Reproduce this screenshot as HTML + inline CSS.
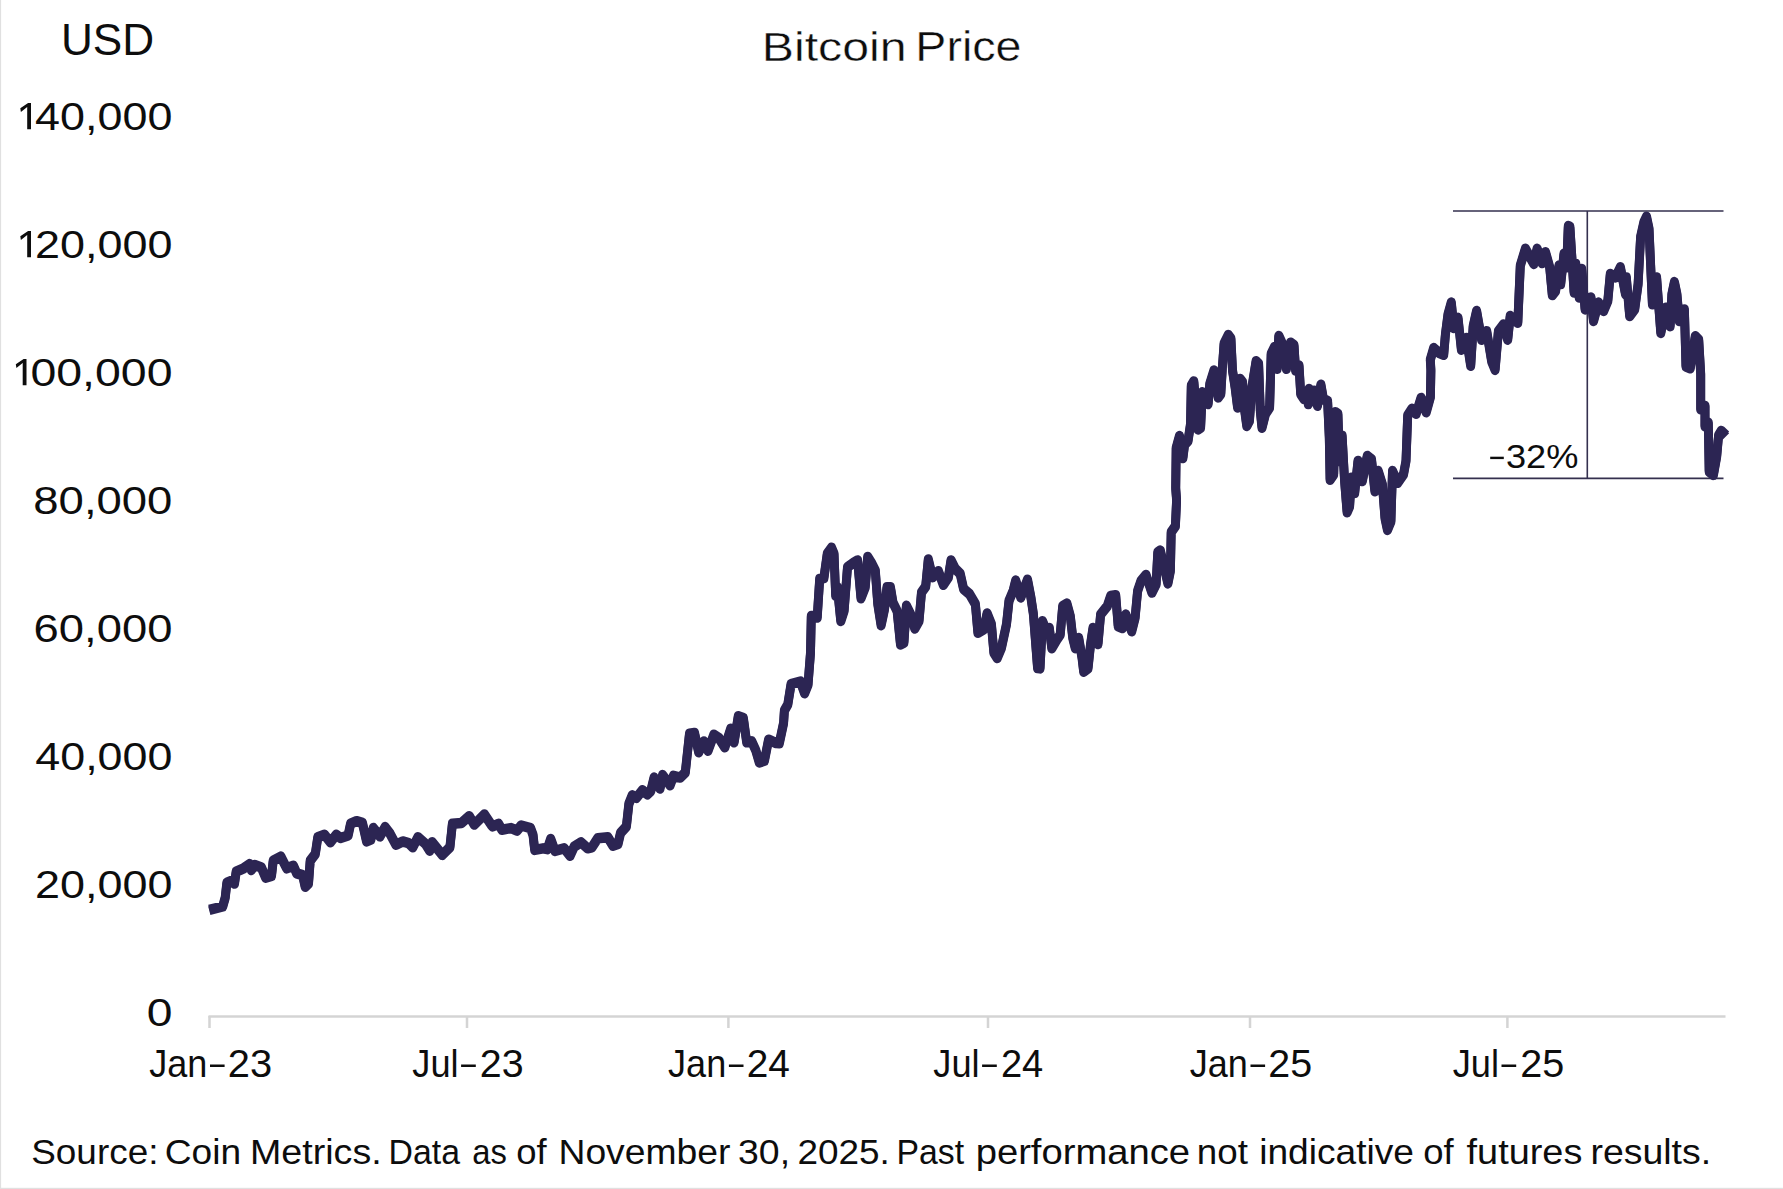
<!DOCTYPE html>
<html><head><meta charset="utf-8"><title>Bitcoin Price</title>
<style>
html,body{margin:0;padding:0;background:#fff;}
body{width:1783px;height:1189px;overflow:hidden;font-family:"Liberation Sans",sans-serif;}
svg{display:block;position:absolute;left:0;top:0;}
text{font-family:"Liberation Sans",sans-serif;fill:#0d0d0d;}
</style></head><body>
<svg width="1783" height="1189" viewBox="0 0 1783 1189">
<rect x="0" y="0" width="1783" height="1189" fill="#fff"/>
<!-- outer faint border -->
<rect x="0" y="0" width="1.1" height="1189" fill="#e0e0e0"/>
<rect x="0" y="1187.8" width="1783" height="1.2" fill="#e0e0e0"/>
<!-- axis -->
<g stroke="#d4d4d4" stroke-width="2.5" fill="none">
<path d="M208.5 1016.5H1725.5"/>
<path d="M209.5 1016V1028M467 1016V1028M728.4 1016V1028M988 1016V1028M1250 1016V1028M1507.4 1016V1028"/>
</g>
<!-- annotation -->
<g stroke="#34304f" stroke-width="1.6" fill="none">
<path d="M1453 211H1723.5M1453 478.4H1723.5M1587.3 211V478.4"/>
</g>
<!-- series -->
<g fill="none" stroke="#2c2553" stroke-width="8.9" stroke-linejoin="round" stroke-linecap="butt">
<polyline transform="translate(0 -0.8)" points="209.3,909.9 222.7,906.5 225.2,897.8 226.9,882.6 231.1,881.0 234.5,883.5 236.2,871.7 243.7,868.3 249.6,864.1 251.3,870.0 254.7,865.0 261.4,867.5 265.6,877.6 271.5,875.9 273.2,860.8 280.8,856.6 286.7,868.3 293.4,865.8 296.7,873.4 302.6,875.1 305.2,886.8 308.5,883.5 310.2,860.8 315.3,854.0 317.8,837.2 324.5,834.7 330.4,842.3 336.3,834.7 340.5,838.0 348.1,835.5 350.6,823.7 356.5,821.2 362.4,822.9 366.6,841.4 370.8,839.7 373.3,828.0 380.0,836.4 385.1,827.1 390.1,833.8 396.0,844.8 402.7,841.4 408.6,843.1 412.8,847.3 417.9,837.2 425.5,843.9 429.7,850.7 432.2,842.3 442.3,854.9 449.9,847.3 452.4,823.7 461.6,822.9 469.2,816.2 474.3,824.6 484.4,814.5 491.1,824.6 492.6,826.4 498.5,823.9 501.9,829.7 511.1,828.1 517.0,830.6 521.2,825.5 530.5,828.1 533.0,834.8 534.7,849.9 543.1,848.3 547.3,849.1 550.7,839.0 554.9,850.8 564.1,848.3 570.0,855.8 574.2,846.6 581.0,842.4 587.7,848.3 591.9,847.4 597.8,838.2 607.9,837.3 612.9,845.7 618.0,844.0 620.5,833.1 626.4,826.4 628.9,803.7 632.3,795.3 636.5,797.8 642.4,790.2 647.4,794.4 650.8,791.0 654.1,777.6 660.0,788.5 662.6,775.1 670.1,785.2 673.5,775.9 680.2,777.6 685.3,772.5 689.5,733.8 694.5,733.0 698.7,752.3 703.8,741.4 708.0,750.7 713.9,734.7 718.9,738.0 724.8,747.3 730.7,728.8 734.1,742.3 738.3,716.2 743.3,717.9 746.7,742.3 751.7,741.4 755.9,750.7 759.3,762.4 764.4,760.8 768.6,739.7 776.1,743.1 779.3,743.2 783.6,723.0 784.4,710.4 787.8,704.5 791.1,684.0 800.4,681.5 804.6,693.3 808.0,684.9 810.5,652.9 811.3,615.9 817.2,617.6 819.7,578.9 823.9,578.0 827.3,553.7 831.5,547.8 834.0,553.7 835.7,595.7 837.4,587.3 840.8,621.0 844.1,610.9 847.5,567.1 853.4,562.9 857.6,560.4 861.0,598.2 865.2,587.3 867.7,557.0 871.9,563.7 875.3,570.5 877.8,604.1 881.1,625.2 884.5,609.2 887.0,587.3 890.4,587.3 892.9,602.4 897.1,610.9 900.5,644.5 903.9,642.8 906.4,605.8 910.6,614.2 914.8,628.5 919.0,621.0 921.5,592.3 925.7,586.5 928.3,559.5 932.5,577.2 938.4,571.3 943.4,584.8 948.4,577.2 951.0,560.4 955.2,568.8 960.2,573.8 963.6,589.0 969.5,594.0 975.4,604.1 977.9,632.7 983.8,629.4 987.1,613.4 991.4,624.3 993.9,652.9 997.2,658.0 1001.4,647.9 1006.5,624.3 1009.0,600.8 1013.2,590.7 1015.7,580.6 1020.8,597.4 1027.5,579.7 1030.9,597.4 1033.4,614.2 1037.6,668.1 1040.0,668.4 1042.5,621.2 1045.9,629.7 1049.3,628.0 1051.8,648.2 1056.8,639.7 1060.2,634.7 1062.7,606.1 1066.9,603.6 1070.3,616.2 1072.8,638.1 1075.3,648.2 1078.7,638.1 1082.1,658.3 1083.7,671.7 1088.0,668.4 1090.5,644.8 1093.0,628.0 1098.0,644.0 1100.6,614.5 1107.3,606.1 1110.7,596.0 1115.7,595.2 1118.2,626.3 1122.4,628.0 1125.8,614.5 1131.7,631.3 1135.1,617.9 1137.6,591.0 1141.0,580.9 1146.0,575.0 1151.9,592.6 1156.1,584.2 1157.8,552.3 1160.3,550.6 1167.9,583.4 1170.4,570.8 1171.2,532.1 1175.4,526.2 1176.6,500.1 1175.7,488.3 1176.2,447.9 1179.5,436.1 1182.9,458.0 1184.6,444.5 1188.0,441.1 1190.5,424.3 1191.3,385.6 1193.8,381.4 1198.0,429.4 1200.6,427.7 1202.3,392.3 1208.1,404.1 1209.8,383.9 1214.0,370.5 1218.2,397.4 1220.8,394.0 1222.4,367.1 1224.1,343.6 1228.3,335.1 1230.9,338.5 1232.5,370.5 1235.1,387.3 1237.6,407.5 1240.1,378.9 1242.6,382.3 1244.3,407.5 1246.8,426.0 1249.4,421.0 1251.9,387.3 1256.1,361.2 1258.6,363.7 1260.3,410.9 1262.0,427.7 1265.4,414.2 1269.6,407.5 1271.2,353.7 1274.6,346.9 1277.1,368.8 1278.8,336.0 1283.0,345.2 1286.4,368.8 1290.6,342.7 1294.0,345.2 1295.6,370.5 1299.0,365.4 1300.7,394.0 1304.0,399.1 1309.1,389.0 1308.3,404.1 1314.1,390.7 1317.5,405.8 1320.9,384.8 1323.4,399.1 1327.6,400.8 1329.3,437.8 1330.1,479.8 1333.7,474.4 1335.3,412.2 1337.9,413.8 1339.5,461.0 1342.1,435.7 1344.6,481.1 1347.1,512.3 1349.6,506.4 1351.3,477.8 1354.7,492.9 1358.0,461.0 1362.3,481.1 1367.3,455.9 1371.5,459.3 1374.9,491.2 1378.2,471.0 1382.4,484.5 1385.0,518.2 1387.5,529.9 1390.9,521.5 1392.5,471.0 1397.6,482.8 1403.5,474.4 1406.0,461.0 1407.7,415.5 1411.9,408.8 1416.1,413.8 1421.1,397.9 1426.2,412.2 1430.4,397.0 1430.9,370.1 1430.3,359.8 1433.7,348.1 1439.5,353.1 1443.7,354.8 1445.4,334.6 1448.0,314.4 1451.3,302.6 1453.8,327.9 1458.0,317.8 1461.4,349.7 1466.5,338.0 1470.7,365.7 1473.2,326.2 1476.6,311.0 1481.6,339.7 1486.7,331.2 1491.7,361.5 1495.1,369.9 1498.4,331.2 1503.5,324.5 1507.7,339.7 1510.2,316.1 1517.8,322.8 1520.3,265.6 1525.4,248.8 1533.8,263.9 1537.1,248.8 1542.2,263.1 1545.5,252.2 1549.7,267.3 1552.3,295.1 1555.6,290.9 1559.0,265.6 1560.7,284.1 1564.0,253.8 1566.6,267.3 1568.3,226.1 1569.9,226.9 1574.1,292.5 1575.8,263.9 1579.2,297.6 1581.7,269.0 1585.1,309.4 1591.0,297.6 1593.5,321.1 1598.5,302.6 1603.6,311.0 1607.8,301.0 1610.3,274.0 1615.4,277.4 1620.4,267.3 1625.5,294.2 1626.3,277.4 1629.7,316.1 1634.7,309.4 1638.1,284.1 1640.6,237.0 1644.0,221.9 1646.5,216.8 1649.0,228.6 1652.4,304.3 1656.6,277.4 1660.8,332.9 1665.8,307.7 1670.1,326.2 1671.9,294.2 1674.4,282.1 1676.9,294.2 1679.3,321.1 1684.4,309.4 1686.0,366.6 1690.2,368.3 1695.3,336.3 1698.7,339.7 1700.7,374.0 1700.7,409.3 1705.0,406.0 1705.0,426.2 1708.3,422.8 1709.2,471.6 1713.4,474.9 1716.7,456.4 1718.6,435.4 1721.3,431.0 1726.0,435.6"/>
<polyline transform="translate(0 0.8)" points="209.3,909.9 222.7,906.5 225.2,897.8 226.9,882.6 231.1,881.0 234.5,883.5 236.2,871.7 243.7,868.3 249.6,864.1 251.3,870.0 254.7,865.0 261.4,867.5 265.6,877.6 271.5,875.9 273.2,860.8 280.8,856.6 286.7,868.3 293.4,865.8 296.7,873.4 302.6,875.1 305.2,886.8 308.5,883.5 310.2,860.8 315.3,854.0 317.8,837.2 324.5,834.7 330.4,842.3 336.3,834.7 340.5,838.0 348.1,835.5 350.6,823.7 356.5,821.2 362.4,822.9 366.6,841.4 370.8,839.7 373.3,828.0 380.0,836.4 385.1,827.1 390.1,833.8 396.0,844.8 402.7,841.4 408.6,843.1 412.8,847.3 417.9,837.2 425.5,843.9 429.7,850.7 432.2,842.3 442.3,854.9 449.9,847.3 452.4,823.7 461.6,822.9 469.2,816.2 474.3,824.6 484.4,814.5 491.1,824.6 492.6,826.4 498.5,823.9 501.9,829.7 511.1,828.1 517.0,830.6 521.2,825.5 530.5,828.1 533.0,834.8 534.7,849.9 543.1,848.3 547.3,849.1 550.7,839.0 554.9,850.8 564.1,848.3 570.0,855.8 574.2,846.6 581.0,842.4 587.7,848.3 591.9,847.4 597.8,838.2 607.9,837.3 612.9,845.7 618.0,844.0 620.5,833.1 626.4,826.4 628.9,803.7 632.3,795.3 636.5,797.8 642.4,790.2 647.4,794.4 650.8,791.0 654.1,777.6 660.0,788.5 662.6,775.1 670.1,785.2 673.5,775.9 680.2,777.6 685.3,772.5 689.5,733.8 694.5,733.0 698.7,752.3 703.8,741.4 708.0,750.7 713.9,734.7 718.9,738.0 724.8,747.3 730.7,728.8 734.1,742.3 738.3,716.2 743.3,717.9 746.7,742.3 751.7,741.4 755.9,750.7 759.3,762.4 764.4,760.8 768.6,739.7 776.1,743.1 779.3,743.2 783.6,723.0 784.4,710.4 787.8,704.5 791.1,684.0 800.4,681.5 804.6,693.3 808.0,684.9 810.5,652.9 811.3,615.9 817.2,617.6 819.7,578.9 823.9,578.0 827.3,553.7 831.5,547.8 834.0,553.7 835.7,595.7 837.4,587.3 840.8,621.0 844.1,610.9 847.5,567.1 853.4,562.9 857.6,560.4 861.0,598.2 865.2,587.3 867.7,557.0 871.9,563.7 875.3,570.5 877.8,604.1 881.1,625.2 884.5,609.2 887.0,587.3 890.4,587.3 892.9,602.4 897.1,610.9 900.5,644.5 903.9,642.8 906.4,605.8 910.6,614.2 914.8,628.5 919.0,621.0 921.5,592.3 925.7,586.5 928.3,559.5 932.5,577.2 938.4,571.3 943.4,584.8 948.4,577.2 951.0,560.4 955.2,568.8 960.2,573.8 963.6,589.0 969.5,594.0 975.4,604.1 977.9,632.7 983.8,629.4 987.1,613.4 991.4,624.3 993.9,652.9 997.2,658.0 1001.4,647.9 1006.5,624.3 1009.0,600.8 1013.2,590.7 1015.7,580.6 1020.8,597.4 1027.5,579.7 1030.9,597.4 1033.4,614.2 1037.6,668.1 1040.0,668.4 1042.5,621.2 1045.9,629.7 1049.3,628.0 1051.8,648.2 1056.8,639.7 1060.2,634.7 1062.7,606.1 1066.9,603.6 1070.3,616.2 1072.8,638.1 1075.3,648.2 1078.7,638.1 1082.1,658.3 1083.7,671.7 1088.0,668.4 1090.5,644.8 1093.0,628.0 1098.0,644.0 1100.6,614.5 1107.3,606.1 1110.7,596.0 1115.7,595.2 1118.2,626.3 1122.4,628.0 1125.8,614.5 1131.7,631.3 1135.1,617.9 1137.6,591.0 1141.0,580.9 1146.0,575.0 1151.9,592.6 1156.1,584.2 1157.8,552.3 1160.3,550.6 1167.9,583.4 1170.4,570.8 1171.2,532.1 1175.4,526.2 1176.6,500.1 1175.7,488.3 1176.2,447.9 1179.5,436.1 1182.9,458.0 1184.6,444.5 1188.0,441.1 1190.5,424.3 1191.3,385.6 1193.8,381.4 1198.0,429.4 1200.6,427.7 1202.3,392.3 1208.1,404.1 1209.8,383.9 1214.0,370.5 1218.2,397.4 1220.8,394.0 1222.4,367.1 1224.1,343.6 1228.3,335.1 1230.9,338.5 1232.5,370.5 1235.1,387.3 1237.6,407.5 1240.1,378.9 1242.6,382.3 1244.3,407.5 1246.8,426.0 1249.4,421.0 1251.9,387.3 1256.1,361.2 1258.6,363.7 1260.3,410.9 1262.0,427.7 1265.4,414.2 1269.6,407.5 1271.2,353.7 1274.6,346.9 1277.1,368.8 1278.8,336.0 1283.0,345.2 1286.4,368.8 1290.6,342.7 1294.0,345.2 1295.6,370.5 1299.0,365.4 1300.7,394.0 1304.0,399.1 1309.1,389.0 1308.3,404.1 1314.1,390.7 1317.5,405.8 1320.9,384.8 1323.4,399.1 1327.6,400.8 1329.3,437.8 1330.1,479.8 1333.7,474.4 1335.3,412.2 1337.9,413.8 1339.5,461.0 1342.1,435.7 1344.6,481.1 1347.1,512.3 1349.6,506.4 1351.3,477.8 1354.7,492.9 1358.0,461.0 1362.3,481.1 1367.3,455.9 1371.5,459.3 1374.9,491.2 1378.2,471.0 1382.4,484.5 1385.0,518.2 1387.5,529.9 1390.9,521.5 1392.5,471.0 1397.6,482.8 1403.5,474.4 1406.0,461.0 1407.7,415.5 1411.9,408.8 1416.1,413.8 1421.1,397.9 1426.2,412.2 1430.4,397.0 1430.9,370.1 1430.3,359.8 1433.7,348.1 1439.5,353.1 1443.7,354.8 1445.4,334.6 1448.0,314.4 1451.3,302.6 1453.8,327.9 1458.0,317.8 1461.4,349.7 1466.5,338.0 1470.7,365.7 1473.2,326.2 1476.6,311.0 1481.6,339.7 1486.7,331.2 1491.7,361.5 1495.1,369.9 1498.4,331.2 1503.5,324.5 1507.7,339.7 1510.2,316.1 1517.8,322.8 1520.3,265.6 1525.4,248.8 1533.8,263.9 1537.1,248.8 1542.2,263.1 1545.5,252.2 1549.7,267.3 1552.3,295.1 1555.6,290.9 1559.0,265.6 1560.7,284.1 1564.0,253.8 1566.6,267.3 1568.3,226.1 1569.9,226.9 1574.1,292.5 1575.8,263.9 1579.2,297.6 1581.7,269.0 1585.1,309.4 1591.0,297.6 1593.5,321.1 1598.5,302.6 1603.6,311.0 1607.8,301.0 1610.3,274.0 1615.4,277.4 1620.4,267.3 1625.5,294.2 1626.3,277.4 1629.7,316.1 1634.7,309.4 1638.1,284.1 1640.6,237.0 1644.0,221.9 1646.5,216.8 1649.0,228.6 1652.4,304.3 1656.6,277.4 1660.8,332.9 1665.8,307.7 1670.1,326.2 1671.9,294.2 1674.4,282.1 1676.9,294.2 1679.3,321.1 1684.4,309.4 1686.0,366.6 1690.2,368.3 1695.3,336.3 1698.7,339.7 1700.7,374.0 1700.7,409.3 1705.0,406.0 1705.0,426.2 1708.3,422.8 1709.2,471.6 1713.4,474.9 1716.7,456.4 1718.6,435.4 1721.3,431.0 1726.0,435.6"/>
</g>
<!-- hyphens -->
<path d="M210.0 1065.7H224.6 M461.1 1065.7H475.8 M728.9 1065.7H743.5 M982.1 1065.7H996.8 M1250.5 1065.7H1265.1 M1501.5 1065.7H1516.2" stroke="#0d0d0d" stroke-width="2.6" fill="none"/>
<path d="M1490.2 457.9H1503.8" stroke="#0d0d0d" stroke-width="2.4" fill="none"/>
<path d="M31.0 129.3V103.1H28.1L20.3 108.3L20.9 112.1L27.2 107.1V129.3Z M31.0 257.3V231.1H28.1L20.3 236.3L20.9 240.1L27.2 235.1V257.3Z M26.5 385.3V359.1H23.6L15.8 364.3L16.4 368.1L22.7 363.1V385.3Z" fill="#0d0d0d"/>
<!-- title / labels -->
<text transform="translate(761.72 60.5) scale(1.1603 1)" font-size="41.6" stroke="#fff" stroke-width="0.4">Bitcoin</text>
<text transform="translate(915.34 60.5) scale(1.1199 1)" font-size="41.6" stroke="#fff" stroke-width="0.4">Price</text>
<text transform="translate(60.89 55.3) scale(1.0031 1)" font-size="44.0">USD</text>
<text transform="translate(35.1 129.9) scale(1.1664 1)" font-size="38.5">40,000</text>
<text transform="translate(35.03 257.9) scale(1.1669 1)" font-size="38.5">20,000</text>
<text transform="translate(30.49 385.9) scale(1.206 1)" font-size="38.5">00,000</text>
<text transform="translate(33.32 513.9) scale(1.1817 1)" font-size="38.5">80,000</text>
<text transform="translate(33.62 641.9) scale(1.1791 1)" font-size="38.5">60,000</text>
<text transform="translate(35.3 769.9) scale(1.1646 1)" font-size="38.5">40,000</text>
<text transform="translate(35.03 897.9) scale(1.1669 1)" font-size="38.5">20,000</text>
<text transform="translate(146.8 1025.9) scale(1.2 1)" font-size="38.5">0</text>
<text transform="translate(149.2 1077.0) scale(0.9438 1)" font-size="38.2">Jan</text>
<text transform="translate(227.76 1077.0) scale(1.0438 1)" font-size="38.2">23</text>
<text transform="translate(412.3 1077.0) scale(0.9475 1)" font-size="38.2">Jul</text>
<text transform="translate(479.87 1077.0) scale(1.0314 1)" font-size="38.2">23</text>
<text transform="translate(668.1 1077.0) scale(0.9438 1)" font-size="38.2">Jan</text>
<text transform="translate(746.68 1077.0) scale(1.0161 1)" font-size="38.2">24</text>
<text transform="translate(933.3 1077.0) scale(0.9475 1)" font-size="38.2">Jul</text>
<text transform="translate(1000.9 1077.0) scale(0.9967 1)" font-size="38.2">24</text>
<text transform="translate(1189.7 1077.0) scale(0.9438 1)" font-size="38.2">Jan</text>
<text transform="translate(1268.27 1077.0) scale(1.0314 1)" font-size="38.2">25</text>
<text transform="translate(1452.7 1077.0) scale(0.9475 1)" font-size="38.2">Jul</text>
<text transform="translate(1520.26 1077.0) scale(1.0363 1)" font-size="38.2">25</text>
<text transform="translate(1505.98 467.7) scale(1.117 1)" font-size="32.4">32%</text>
<text transform="translate(31.23 1164.0) scale(1.0701 1)" font-size="34.5">Source:</text>
<text transform="translate(164.72 1164.0) scale(1.0757 1)" font-size="34.5">Coin</text>
<text transform="translate(250.02 1164.0) scale(1.0907 1)" font-size="34.5">Metrics.</text>
<text transform="translate(388.54 1164.0) scale(0.9806 1)" font-size="34.5">Data</text>
<text transform="translate(472.15 1164.0) scale(0.9506 1)" font-size="34.5">as</text>
<text transform="translate(516.24 1164.0) scale(1.0572 1)" font-size="34.5">of</text>
<text transform="translate(558.44 1164.0) scale(1.0814 1)" font-size="34.5">November</text>
<text transform="translate(738.01 1164.0) scale(1.0862 1)" font-size="34.5">30,</text>
<text transform="translate(797.43 1164.0) scale(1.0707 1)" font-size="34.5">2025.</text>
<text transform="translate(896.44 1164.0) scale(0.98 1)" font-size="34.5">Past</text>
<text transform="translate(975.69 1164.0) scale(1.1072 1)" font-size="34.5">performance</text>
<text transform="translate(1196.77 1164.0) scale(1.0652 1)" font-size="34.5">not</text>
<text transform="translate(1259.15 1164.0) scale(1.0765 1)" font-size="34.5">indicative</text>
<text transform="translate(1423.34 1164.0) scale(1.0572 1)" font-size="34.5">of</text>
<text transform="translate(1466.6 1164.0) scale(1.0977 1)" font-size="34.5">futures</text>
<text transform="translate(1590.53 1164.0) scale(1.0843 1)" font-size="34.5">results.</text>
</svg>
</body></html>
